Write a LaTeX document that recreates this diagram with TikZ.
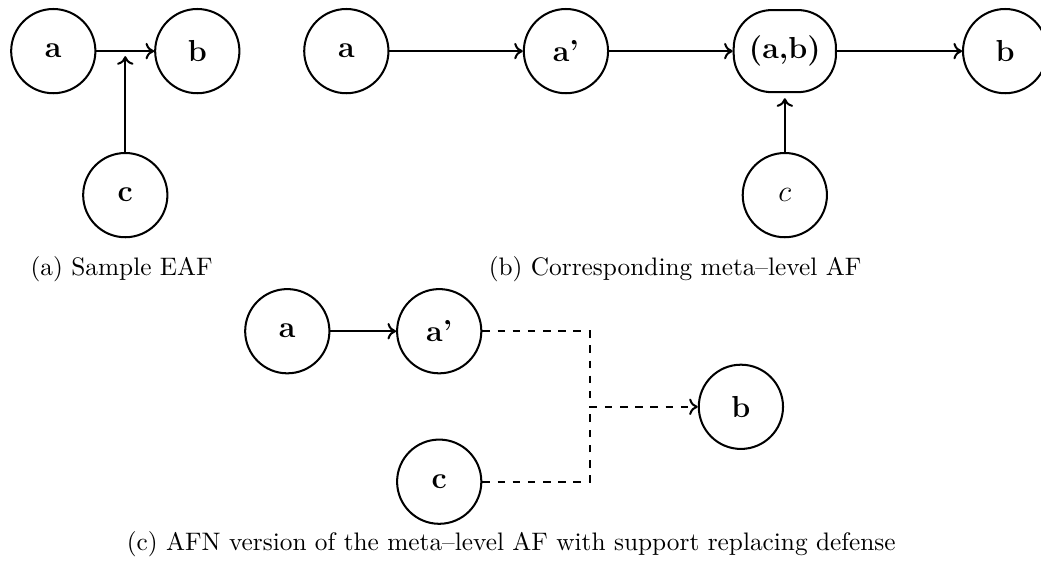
\documentclass[tikz,border=0pt]{standalone}
\usetikzlibrary{arrows.meta}
\begin{document}
\begin{tikzpicture}[
    thick,
    >={To[length=3.4pt, width=6.5pt]},
    arg/.style={circle, draw, minimum size=1.17cm, inner sep=0pt, font=\large\bfseries},
    metaarg/.style={rectangle, draw, rounded corners=15pt, minimum width=1.42cm, minimum height=1.14cm, inner sep=2pt, font=\large\bfseries},
    support/.style={dashed},
    caption/.style={anchor=base}
]
    \useasboundingbox (0,0) rectangle (14.458,-7.958);

    % --- (a) Sample EAF ---
    \node[arg] (a1) at (0.74,-0.71) {a};
    \node[arg] (b1) at (2.74,-0.71) {b};
    \node[arg] (c1) at (1.74,-2.71) {c};

    \draw[->] (a1) -- (b1);
    \draw[->, shorten >=2pt] (c1) -- (c1 |- a1); % attack on the attack

    \node[caption] (capa) at (1.69,-3.83) {(a) Sample EAF};

    % --- (b) meta-level AF ---
    \node[arg] (a2) at (4.81,-0.71) {a};
    \node[arg] (ap2) at (7.86,-0.71) {a'};
    \node[metaarg] (ab2) at (10.90,-0.71) {(a,b)};
    \node[arg] (b2) at (13.96,-0.71) {b};
    \node[arg] (c2) at (10.90,-2.71) {$c$};

    \draw[->] (a2) -- (ap2);
    \draw[->] (ap2) -- (ab2);
    \draw[->] (ab2) -- (b2);
    \draw[->, shorten >=2pt] (c2) -- (ab2);

    \node[caption] (capb) at (9.375,-3.83) {(b) Corresponding meta--level AF};

    % --- (c) AFN version ---
    \node[arg] (a3) at (3.99,-4.60) {a};
    \node[arg] (ap3) at (6.10,-4.60) {a'};
    \node[arg] (c3) at (6.10,-6.69) {c};
    \node[arg] (b3) at (10.29,-5.65) {b};
    \coordinate (join) at (8.19,-5.65);

    \draw[->] (a3) -- (ap3);
    \draw[support] (ap3.east) -| (join);
    \draw[support] (c3.east) -| (join);
    \draw[support, ->] (join) -- (b3);

    \node[caption] (capc) at (7.10,-7.64) {(c) AFN version of the meta--level AF with support replacing defense};

\end{tikzpicture}
\end{document}
